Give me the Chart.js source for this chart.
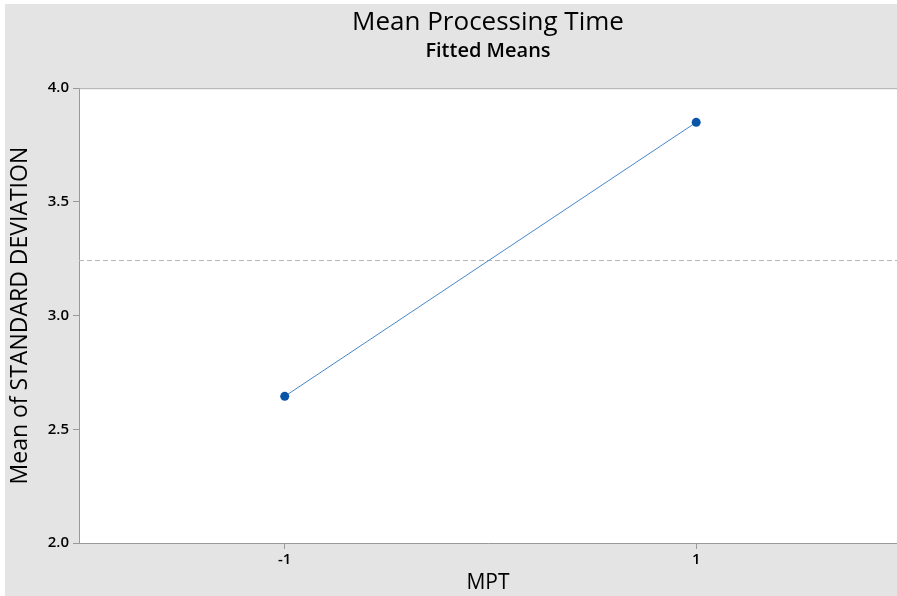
<!DOCTYPE html>
<html><head><meta charset="utf-8">
<script src="https://cdn.jsdelivr.net/npm/chart.js@4/dist/chart.umd.min.js"></script>
<style>
html,body{margin:0;padding:0;background:#fff;overflow:hidden;width:897px;height:596px}
canvas{display:block}
</style></head>
<body><canvas id="c" width="897" height="596"></canvas>
<script>
const mptLevels = [-1, 1];
const fittedMeans = [2.645, 3.85];
const overallMean = [3.245];
const yTicks = [2.0, 2.5, 3.0, 3.5, 4.0];
const titleText = 'Mean Processing Time';
const subtitleText = 'Fitted Means';
const yTitle = 'Mean of STANDARD DEVIATION';
const xTitle = 'MPT';

const FONT = "'Open Sans', 'Noto Sans', sans-serif";

const bgPlugin = {
  id: 'bg',
  beforeDraw(chart) {
    const {ctx, chartArea: a} = chart;
    ctx.save();
    ctx.fillStyle = '#ffffff';
    ctx.fillRect(0, 0, chart.width, chart.height);
    ctx.fillStyle = '#e4e4e4';
    ctx.fillRect(5, 4, chart.width - 5, chart.height - 4);
    ctx.fillStyle = '#ffffff';
    ctx.fillRect(a.left, a.top, a.right - a.left, a.bottom - a.top);
    ctx.restore();
  },
  beforeDatasetsDraw(chart) {
    const {ctx, chartArea: a, scales} = chart;
    const y = Math.round(scales.y.getPixelForValue(overallMean[0])) + 0.5;
    ctx.save();
    ctx.strokeStyle = '#b8b8b8';
    ctx.lineWidth = 1;
    ctx.setLineDash([5, 3]);
    ctx.beginPath();
    ctx.moveTo(a.left, y);
    ctx.lineTo(a.right, y);
    ctx.stroke();
    ctx.restore();
  },
  afterDraw(chart) {
    const {ctx, chartArea: a} = chart;
    ctx.save();
    ctx.strokeStyle = '#aaaaaa';
    ctx.lineWidth = 1;
    ctx.beginPath();
    ctx.moveTo(a.left, a.top + 0.5);
    ctx.lineTo(a.right, a.top + 0.5);
    ctx.stroke();
    ctx.restore();
  }
};

new Chart(document.getElementById('c'), {
  type: 'line',
  data: {
    datasets: [{
      data: mptLevels.map((x, i) => ({x: x, y: fittedMeans[i]})),
      borderColor: '#4a86c8',
      borderWidth: 1,
      pointBackgroundColor: '#0a55a8',
      pointBorderColor: '#0a55a8',
      pointRadius: 4.5,
      pointBorderWidth: 0,
      fill: false,
      tension: 0
    }]
  },
  options: {
    responsive: false,
    animation: false,
    layout: {autoPadding: false, padding: {left: 0, right: 0, top: 0, bottom: 0}},
    plugins: {
      legend: {display: false},
      tooltip: {enabled: false},
      title: {
        display: true, text: titleText, fullSize: false,
        color: '#000', font: {family: FONT, size: 26, weight: 'normal'},
        padding: {top: 7, bottom: 0}
      },
      subtitle: {
        display: true, text: subtitleText, fullSize: false,
        color: '#000', font: {family: FONT, size: 20, weight: '600'},
        padding: {top: 1, bottom: 25}
      }
    },
    scales: {
      x: {
        type: 'linear', min: -2, max: 1.976,
        afterBuildTicks(scale) { scale.ticks = mptLevels.map(v => ({value: v})); },
        afterFit(scale) { scale.height = 53; },
        ticks: {
          color: '#000', font: {family: FONT, size: 15, weight: '600'}, padding: 2,
          callback: v => String(v), maxRotation: 0
        },
        grid: {display: true, drawOnChartArea: false, drawTicks: true, tickLength: 6, color: '#999'},
        border: {display: true, color: '#999'},
        title: {
          display: true, text: xTitle, color: '#000',
          font: {family: FONT, size: 21, weight: 'normal'},
          padding: {top: 0, bottom: 0}
        }
      },
      y: {
        type: 'linear', min: 2, max: 4,
        afterBuildTicks(scale) { scale.ticks = yTicks.map(v => ({value: v})); },
        afterFit(scale) { scale.width = 79; },
        ticks: {
          color: '#000', font: {family: FONT, size: 15, weight: '600'}, padding: 4,
          callback: v => Number(v).toFixed(1)
        },
        grid: {display: true, drawOnChartArea: false, drawTicks: true, tickLength: 6, color: '#999'},
        border: {display: true, color: '#999'},
        title: {
          display: true, text: yTitle, color: '#000',
          font: {family: FONT, size: 23, weight: 'normal'},
          padding: {top: 7, bottom: 0}
        }
      }
    }
  },
  plugins: [bgPlugin]
});
</script>
</body></html>
